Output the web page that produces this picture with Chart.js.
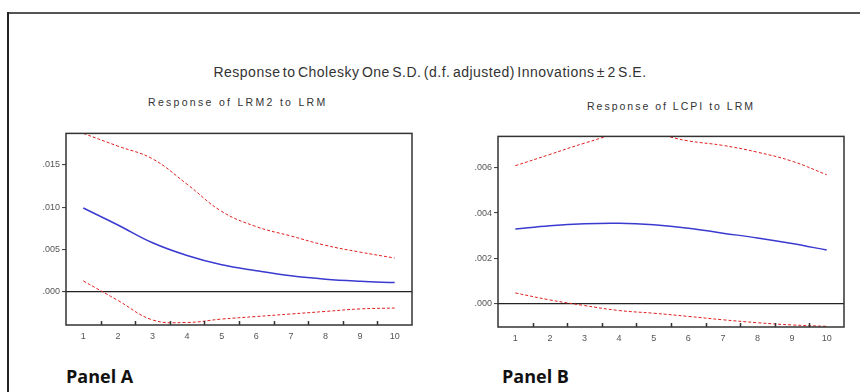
<!DOCTYPE html>
<html>
<head>
<meta charset="utf-8">
<script src="https://cdn.jsdelivr.net/npm/chart.js@4.4.1/dist/chart.umd.min.js"></script>
<style>
	html, body { margin: 0; padding: 0; background: #fff; overflow: hidden; }
	#wrap { position: relative; width: 860px; height: 392px; overflow: hidden; background: #fff; }
	#frameTop { position: absolute; left: 7px; top: 12px; width: 853px; height: 2px; background: #555; }
	#frameLeft { position: absolute; left: 7px; top: 12px; width: 2px; height: 380px; background: #222; }
	.txt { position: absolute; font-family: "Liberation Sans", Arial, sans-serif; color: #333; white-space: nowrap; }
	#mainTitle { left: 0; width: 860px; top: 64px; text-align: center; font-size: 14px; letter-spacing: 0.5px; word-spacing: -2px; }
	#subA { left: 148px; top: 96px; font-size: 10.5px; letter-spacing: 2.3px; }
	#subB { left: 587px; top: 100px; font-size: 10.5px; letter-spacing: 2px; }
	.panel { position: absolute; top: 364px; font-family: "Open Sans", "Noto Sans", sans-serif; font-weight: bold; font-size: 18px; color: #111; }
	canvas { position: absolute; }
</style>
</head>
<body>
<div id="wrap">
	<div id="frameTop"></div>
	<div id="frameLeft"></div>
	<div id="mainTitle" class="txt">Response to Cholesky One S.D. (d.f. adjusted) Innovations ± 2 S.E.</div>
	<div id="subA" class="txt">Response of LRM2 to LRM</div>
	<div id="subB" class="txt">Response of LCPI to LRM</div>
	<div class="panel" style="left:66px">Panel A</div>
	<div class="panel" style="left:502px">Panel B</div>
	<canvas id="chartA" style="left:30px; top:126px;" width="386" height="219"></canvas>
	<canvas id="chartB" style="left:462px; top:129px;" width="386" height="218"></canvas>
</div>
<script>
const periods = ['1', '2', '3', '4', '5', '6', '7', '8', '9', '10'];

// Panel A: response of LRM2 to LRM
const lrm2Resp  = [0.0099, 0.0079, 0.0058, 0.0043, 0.0032, 0.0025, 0.0019, 0.0015, 0.00126, 0.0011];
const lrm2Upper = [0.0187, 0.0172, 0.0157, 0.0127, 0.0095, 0.0077, 0.0066, 0.0055, 0.0047, 0.0040];
const lrm2Lower = [0.0013, -0.0010, -0.0033, -0.0036, -0.0032, -0.0029, -0.0026, -0.0023, -0.0020, -0.0019];
const lrm2Ticks = [0, 0.005, 0.010, 0.015];
const lrm2Range = [-0.0039, 0.0187];

// Panel B: response of LCPI to LRM
const lcpiResp  = [0.00329, 0.00344, 0.00353, 0.00355, 0.00348, 0.00333, 0.00311, 0.0029, 0.00265, 0.00236];
const lcpiUpper = [0.0061, 0.0066, 0.0071, 0.0075, 0.0075, 0.0072, 0.0070, 0.0067, 0.0063, 0.0057];
const lcpiLower = [0.00046, 0.00015, -0.0001, -0.00032, -0.00044, -0.00058, -0.00073, -0.00086, -0.00096, -0.00102];
const lcpiTicks = [0, 0.002, 0.004, 0.006];
const lcpiRange = [-0.00105, 0.0074];

// box around plot area + small inward ticks on the x axis
const boxPlugin = {
	id: 'boxPlugin',
	afterDraw(chart) {
		const a = chart.chartArea;
		const c = chart.ctx;
		const n = chart.data.labels.length;
		c.save();
		c.strokeStyle = '#333';
		c.lineWidth = 1.5;
		c.strokeRect(a.left, a.top, a.right - a.left, a.bottom - a.top);
		for (let i = 1; i < n; i++) {
			const x = Math.round(a.left + i * (a.right - a.left) / n) + 0.5;
			c.beginPath();
			c.moveTo(x, a.bottom);
			c.lineTo(x, a.bottom - 4);
			c.stroke();
		}
		c.restore();
	}
};

function makeData(resp, upper, lower) {
	const dashed = {
		borderColor: '#e02020',
		borderWidth: 1,
		borderDash: [3, 2],
		pointRadius: 0,
		tension: 0.4,
		fill: false,
	};
	return {
		labels: periods,
		datasets: [
			Object.assign({ data: upper }, dashed),
			Object.assign({ data: lower }, dashed),
			{
				data: resp,
				borderColor: '#3a3ad0',
				borderWidth: 1.5,
				pointRadius: 0,
				tension: 0.4,
				fill: false,
			},
		],
	};
}

function makeOptions(tickVals, range) {
	return {
		responsive: false,
		animation: false,
		layout: { padding: { top: 4, right: 4, left: 0, bottom: 0 } },
		plugins: {
			legend: { display: false },
			tooltip: { enabled: false },
			title: { display: false },
		},
		scales: {
			x: {
				type: 'category',
				offset: true,
				grid: { display: false },
				border: { display: false },
				ticks: {
					color: '#555',
					font: { family: 'Liberation Sans', size: 9 },
					padding: -2,
					maxRotation: 0,
				},
				afterFit: (scale) => { scale.height = 20; },
			},
			y: {
				type: 'linear',
				min: range[0],
				max: range[1],
				border: { display: false },
				grid: {
					drawTicks: true,
					tickLength: 4,
					tickColor: '#333',
					tickWidth: 1,
					lineWidth: 1.2,
					color: (ctx) => (ctx.tick && ctx.tick.value === 0) ? '#222' : 'rgba(0,0,0,0)',
				},
				afterBuildTicks: (scale) => {
					scale.ticks = tickVals.map(v => ({ value: v }));
				},
				ticks: {
					color: '#555',
					font: { family: 'Liberation Sans', size: 9 },
					padding: 2,
					callback: (v) => v.toFixed(3).replace(/^0/, ''),
				},
				afterFit: (scale) => { scale.width = 36; },
			},
		},
	};
}

const chartA = new Chart(document.getElementById('chartA'), {
	type: 'line',
	data: makeData(lrm2Resp, lrm2Upper, lrm2Lower),
	options: makeOptions(lrm2Ticks, lrm2Range),
	plugins: [boxPlugin],
});

const chartB = new Chart(document.getElementById('chartB'), {
	type: 'line',
	data: makeData(lcpiResp, lcpiUpper, lcpiLower),
	options: makeOptions(lcpiTicks, lcpiRange),
	plugins: [boxPlugin],
});
</script>
</body>
</html>
